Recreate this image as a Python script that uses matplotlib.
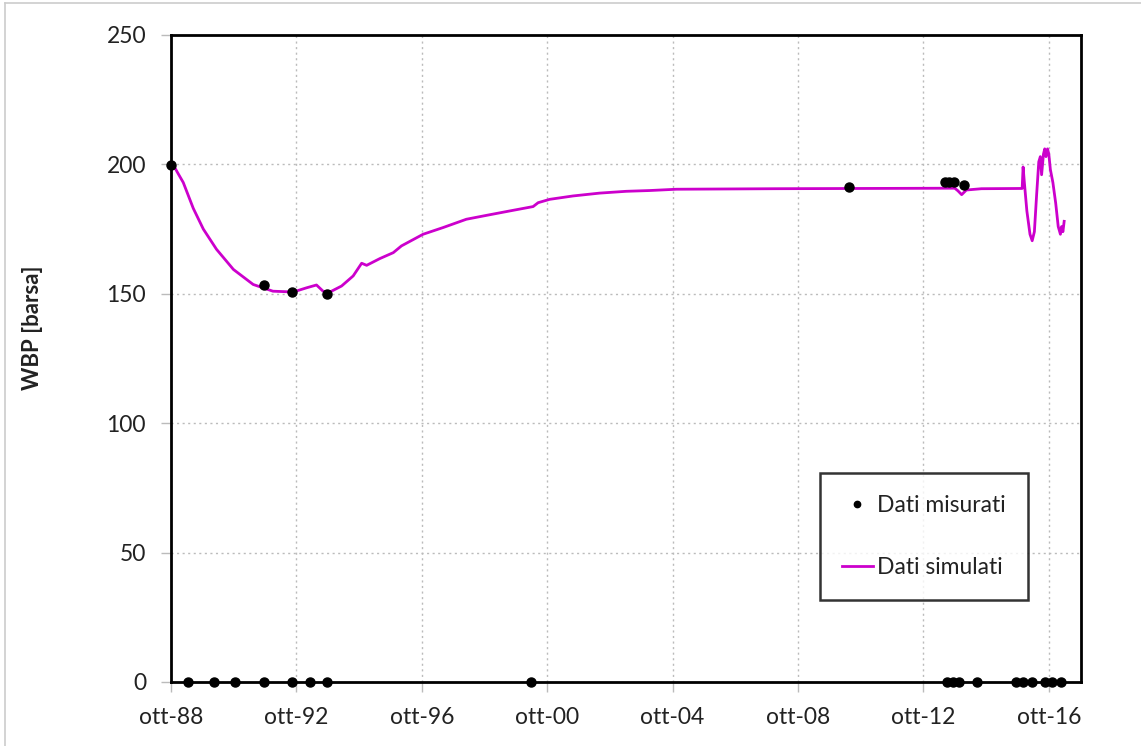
import matplotlib.pyplot as plt
from matplotlib.lines import Line2D

plt.rcParams['font.family'] = ['Lato', 'DejaVu Sans']

# simulated WBP (decimal year, barsa)
sim_year = [1988.75, 1988.85, 1988.95, 1989.14, 1989.30, 1989.46, 1989.78, 1990.20,
            1990.74, 1991.37, 1992.00, 1992.65, 1993.07, 1993.39, 1993.60, 1993.82,
            1994.19, 1994.56, 1994.83, 1994.99, 1995.41, 1995.84, 1996.10, 1996.79,
            1997.43, 1998.17, 1998.81, 1999.55, 2000.30, 2000.46, 2000.83, 2001.57,
            2002.42, 2003.27, 2004.02, 2004.87, 2008.00, 2013.75, 2013.85, 2013.97,
            2014.12, 2014.60, 2015.90, 2015.93, 2015.97, 2016.05, 2016.15, 2016.22,
            2016.29, 2016.36, 2016.43, 2016.48, 2016.52, 2016.58, 2016.62, 2016.66,
            2016.71, 2016.75, 2016.80, 2016.88, 2016.97, 2017.05, 2017.12, 2017.16,
            2017.20, 2017.24]
sim_wbp = [200.0, 199.2, 197.0, 193.0, 188.0, 183.0, 175.0, 167.2,
           159.4, 153.6, 151.0, 150.7, 152.3, 153.4, 151.0, 150.7,
           153.0, 156.9, 161.8, 161.0, 163.6, 165.9, 168.5, 173.0,
           175.6, 178.8, 180.3, 182.0, 183.7, 185.2, 186.5, 187.8,
           188.9, 189.6, 189.9, 190.4, 190.6, 190.8, 189.8, 188.3,
           190.1, 190.6, 190.7, 199.0, 193.0, 182.0, 173.0, 170.5,
           174.0, 188.0, 201.0, 203.0, 196.0, 204.0, 206.0, 203.0,
           206.0, 204.0, 198.0, 193.0, 185.0, 176.0, 173.0, 176.0,
           174.0, 178.0]

# measured WBP (barsa); zeros are records without a valid pressure
meas_year = [1988.75, 1991.72, 1992.62, 1993.72, 2010.37, 2013.45, 2013.58, 2013.71, 2014.05,
             1989.28, 1990.13, 1990.79, 1991.72, 1992.62, 1993.17, 1993.72, 2000.22,
             2013.49, 2013.68, 2013.90, 2014.46, 2015.71, 2015.94, 2016.22, 2016.64,
             2016.86, 2017.15]
meas_wbp = [199.6, 153.4, 150.8, 150.0, 191.4, 193.3, 193.3, 193.3, 192.1,
            0, 0, 0, 0, 0, 0, 0, 0,
            0, 0, 0, 0, 0, 0, 0, 0,
            0, 0]

x_ticks = [1988.75, 1992.75, 1996.75, 2000.75, 2004.75, 2008.75, 2012.75, 2016.75]
x_labels = ['ott-88', 'ott-92', 'ott-96', 'ott-00', 'ott-04', 'ott-08', 'ott-12', 'ott-16']
y_ticks = [0, 50, 100, 150, 200, 250]

fig = plt.figure(figsize=(11.41, 7.46), dpi=100)
ax = fig.add_axes([0.1499, 0.0858, 0.7976, 0.8673])

ax.plot(meas_year, meas_wbp, 'o', color='black', markersize=6.5, zorder=4,
        clip_on=False, label='Dati misurati')
ax.plot(sim_year, sim_wbp, '-', color='#CC00CC', linewidth=2.0, zorder=3,
        label='Dati simulati')

ax.set_xlim(1988.75, 2017.78)
ax.set_ylim(0, 250)
ax.set_xticks(x_ticks)
ax.set_xticklabels(x_labels)
ax.set_yticks(y_ticks)
ax.tick_params(axis='both', direction='out', length=7, width=1, color='#bbbbbb',
               labelsize=16.5, labelcolor='#222222', pad=11)

ax.grid(True, linestyle=(0, (1.5, 2.5)), color='#bbbbbb', linewidth=1)
ax.set_axisbelow(True)
for side in ax.spines.values():
    side.set_linewidth(2)
    side.set_color('black')

ax.set_ylabel('WBP [barsa]', fontsize=16, fontweight='bold', color='#222222')
ax.yaxis.set_label_coords(-0.1407, 0.547)

leg = ax.legend(loc='upper left', bbox_to_anchor=(0.713, 0.323), borderaxespad=0,
                fontsize=16.5, frameon=True, fancybox=False, borderpad=0.95,
                labelspacing=1.8, handlelength=1.35, handletextpad=0.2,
                markerscale=0.7)
leg.get_frame().set_edgecolor('black')
leg.get_frame().set_linewidth(1.8)
for t in leg.get_texts():
    t.set_color('#222222')

# thin frame lines along the image edge
fig.add_artist(Line2D([0.0045, 0.0045], [0, 0.996], transform=fig.transFigure,
                      color='#cccccc', linewidth=1.2))
fig.add_artist(Line2D([0.0045, 1], [0.996, 0.996], transform=fig.transFigure,
                      color='#cccccc', linewidth=1.2))

fig.savefig('out.png', dpi=100)
